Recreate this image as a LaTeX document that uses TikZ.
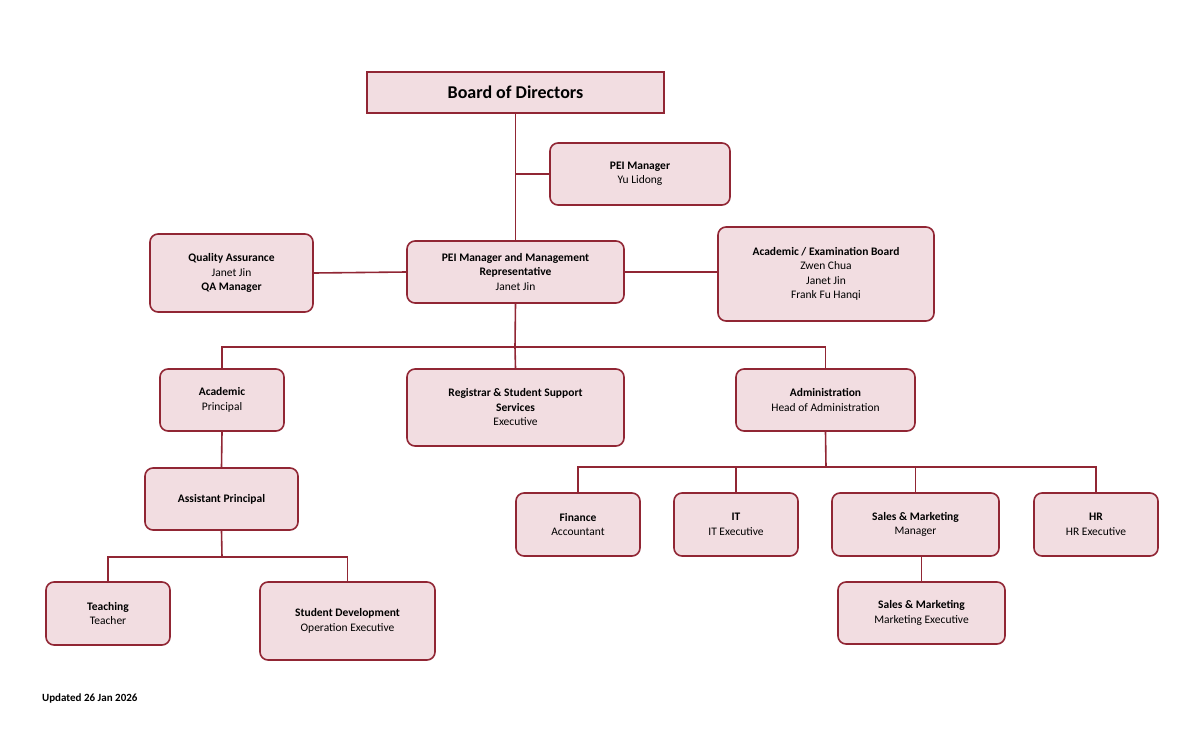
\documentclass[tikz,border=0pt]{standalone}
\usepackage{fontspec}
\setmainfont{Carlito}
\usetikzlibrary{calc}
\definecolor{boxfill}{RGB}{242,221,225}
\definecolor{boxline}{RGB}{145,38,52}
\tikzset{every picture/.style={line width=1.6pt}}
\tikzset{
  unit/.style={draw=boxline,fill=boxfill,rounded corners=8pt,align=center,inner sep=2pt,font=\fontsize{11.5}{14.5}\selectfont},
  link/.style={draw=boxline}
}
\newcommand{\unitbox}[6]{% name, x1, y1, x2, y2, text
  \node[unit,minimum width=#4-#2,minimum height=#5-#3] (#1) at ({(#2+#4)/2},{(#3+#5)/2}) {#6};}

\begin{document}
\begin{tikzpicture}[x=1pt,y=-1pt]
\useasboundingbox (0,0) rectangle (1200,742);

% top level
\node[unit,rounded corners=0pt,minimum width=297,minimum height=41,font=\fontsize{18}{20}\selectfont\bfseries] (board) at (515.5,92.5) {Board of Directors};
\unitbox{pei}{550}{143}{730}{205}{\textbf{PEI Manager}\\Yu Lidong}
\unitbox{qa}{150}{234}{313}{312}{\textbf{Quality Assurance}\\Janet Jin\\\textbf{QA Manager}}
\unitbox{mr}{407}{241}{624}{303}{\textbf{PEI Manager and Management}\\\textbf{Representative}\\Janet Jin}
\unitbox{exam}{718}{227}{934}{321}{\textbf{Academic / Examination Board}\\Zwen Chua\\Janet Jin\\Frank Fu Hanqi}

% second level
\unitbox{acad}{160}{369}{284}{431}{\textbf{Academic}\\Principal}
\unitbox{reg}{407}{369}{624}{446}{\textbf{Registrar \& Student Support}\\\textbf{Services}\\Executive}
\unitbox{admin}{736}{369}{915}{431}{\textbf{Administration}\\Head of Administration}

% academic branch
\unitbox{ap}{145}{468}{298}{530}{\textbf{Assistant Principal}}
\unitbox{teach}{46}{582}{170}{645}{\textbf{Teaching}\\Teacher}
\unitbox{sdev}{260}{582}{435}{660}{\textbf{Student Development}\\Operation Executive}

% administration branch
\unitbox{fin}{516}{493}{640}{556}{\textbf{Finance}\\Accountant}
\unitbox{it}{674}{493}{798}{556}{\textbf{IT}\\IT Executive}
\unitbox{sales}{832}{493}{999}{556}{\textbf{Sales \& Marketing}\\Manager}
\unitbox{hr}{1034}{493}{1158}{556}{\textbf{HR}\\HR Executive}
\unitbox{mkt}{838}{582}{1005}{644}{\textbf{Sales \& Marketing}\\Marketing Executive}

\node[anchor=west,font=\fontsize{11}{13}\selectfont\bfseries] (upd) at (38,698) {Updated 26 Jan 2026};

% connectors
\coordinate (busA) at (515,347);
\coordinate (busB) at (222,557);
\coordinate (busC) at (826,467);
\draw[link] (board.south) -- (mr.north);
\draw[link] (515,174) -- (pei.west);
\draw[link] (qa.east) -- (mr.west);
\draw[link] (mr.east) -- (exam.west |- mr.east);
\draw[link] (mr.south) -- (busA);
\draw[link] (acad.north) |- (busA) -| (admin.north);
\draw[link] (busA) -- (reg.north);
\draw[link] (acad.south) -- (ap.north);
\draw[link] (ap.south) -- (busB);
\draw[link] (teach.north) |- (busB) -| (sdev.north);
\draw[link] (admin.south) -- (busC);
\draw[link] (fin.north) |- (busC) -| (hr.north);
\draw[link] (it.north) -- (it.north |- busC);
\draw[link] (sales.north) -- (sales.north |- busC);
\draw[link] (sales.south -| mkt.north) -- (mkt.north);
\end{tikzpicture}
\end{document}
